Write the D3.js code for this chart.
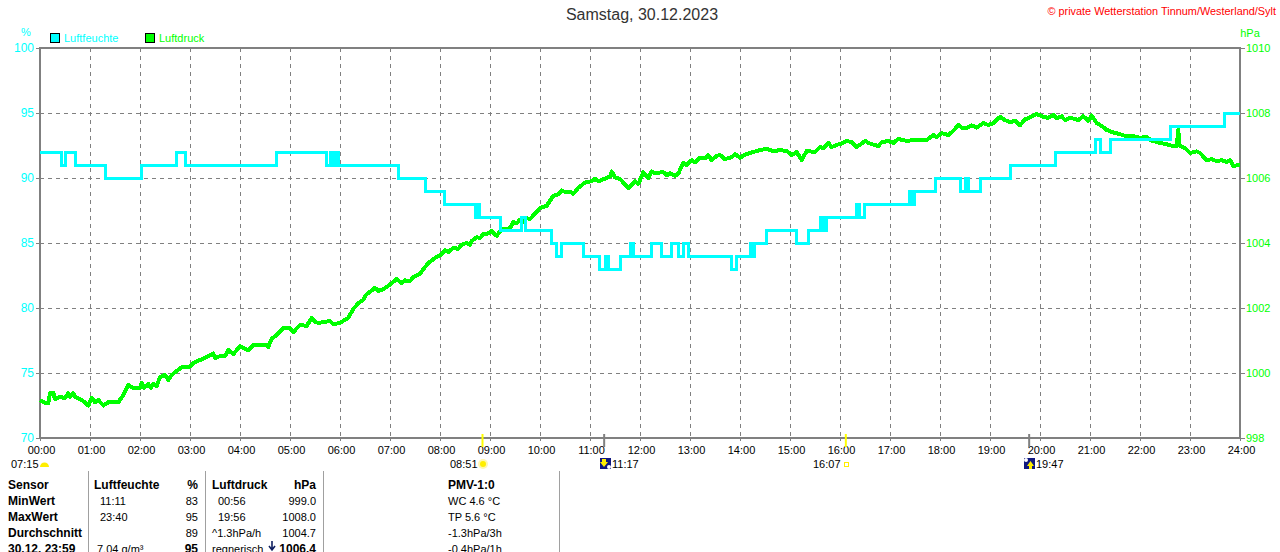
<!DOCTYPE html>
<html>
<head>
<meta charset="utf-8">
<title>Samstag, 30.12.2023</title>
<script src="https://cdn.jsdelivr.net/npm/d3@7"></script>
<style>
	html, body { margin: 0; padding: 0; background: #fff; overflow: hidden; }
	svg { display: block; }
	text { font-family: "Liberation Sans", Arial, sans-serif; font-size: 11px; }
	.grid line { stroke: #808080; stroke-dasharray: 4 4; }
	.grid path, .axis path { display: none; }
	.axis line { stroke: #808080; }
	.axis text { font-size: 11px; }
</style>
</head>
<body>
<svg id="chart" width="1280" height="552"></svg>
<script>
// Hours along the bottom and the two value axes
const hourTicks = d3.range(0, 25).map(h => h * 60);
const humidityTicks = [70, 75, 80, 85, 90, 95, 100];
const pressureTicks = [998, 1000, 1002, 1004, 1006, 1008, 1010];

// Luftfeuchte: [minute, %], value holds until the next entry
const humidity = [[0,92],[26,91],[31,92],[43,91],[78,90],[122,91],[164,92],[175,91],[284,92],[344,91],[348,92],[352,91],[354,92],[358,91],
	[430,90],[462,89],[485,88],[522,87],[524,88],[527,87],[552,86],[578,87],[583,86],[614,85],[620,84],[626,85],[652,84],[671,83],[678,84],[682,83],
	[696,84],[708,85],[712,84],[734,85],[746,84],[758,85],[766,84],[772,85],[778,84],[830,83],[836,84],[853,85],[854,84],[857,85],[872,86],
	[908,85],[922,86],[937,87],[940,86],[944,87],[980,88],[983,87],[989,88],[1043,89],[1046,88],[1049,89],[1074,90],[1104,89],[1110,90],[1114,89],
	[1128,90],[1164,91],[1219,92],[1266,93],[1272,92],[1285,93],[1356,94],[1421,95],[1440,95]];

// Luftdruck: [minute, hPa]
const pressure = [[0,999.17],[6,999.08],[10,999.08],[12,999.38],[16,999.38],[18,999.2],[24,999.26],[30,999.23],[34,999.38],[36,999.26],[40,999.38],[42,999.26],[48,999.2],[54,999.1],[58,999.0],
	[62,999.23],[66,999.1],[70,999.17],[76,999.0],[82,999.1],[88,999.1],[94,999.1],[100,999.32],[106,999.63],[112,999.54],[120,999.54],[122,999.69],[125,999.54],[130,999.66],[133,999.54],
	[136,999.66],[140,999.6],[144,999.88],[150,999.94],[154,999.78],[158,999.94],[164,1000.06],[170,1000.18],[180,1000.2],[186,1000.34],[192,1000.4],[200,1000.49],
	[208,1000.6],[210,1000.46],[216,1000.52],[222,1000.52],[226,1000.71],[232,1000.58],[240,1000.83],[250,1000.7],[256,1000.86],[272,1000.86],[274,1000.8],[278,1001.05],[284,1001.17],
	[292,1001.38],[300,1001.38],[304,1001.26],[312,1001.48],[320,1001.45],[326,1001.69],[330,1001.57],[334,1001.54],[348,1001.6],[352,1001.5],[360,1001.54],[370,1001.7],
	[376,1001.97],[382,1002.15],[388,1002.25],[391,1002.4],[394,1002.46],[402,1002.62],[406,1002.52],[412,1002.58],[420,1002.72],[428,1002.89],[434,1002.77],[438,1002.85],[444,1002.83],[448,1002.95],[456,1003.05],[460,1003.2],[466,1003.38],[474,1003.54],
	[480,1003.62],[486,1003.78],[490,1003.72],[496,1003.85],[502,1003.82],[506,1003.95],[512,1004.0],[516,1003.95],[518,1004.06],[524,1004.18],[528,1004.15],[532,1004.27],[536,1004.28],[542,1004.37],[548,1004.22],[554,1004.43],[558,1004.42],[564,1004.46],
	[568,1004.65],[572,1004.6],[576,1004.72],[580,1004.65],[584,1004.76],[588,1004.74],[594,1004.9],[600,1005.08],[608,1005.14],[612,1005.3],[616,1005.45],[622,1005.5],[626,1005.62],[630,1005.57],[636,1005.58],[640,1005.51],[646,1005.7],[652,1005.82],[656,1005.88],[662,1005.9],
	[666,1005.98],[670,1005.9],[674,1005.94],[680,1006.0],[684,1006.05],[686,1006.2],[690,1006.02],[696,1005.97],[706,1005.69],[714,1005.9],[718,1005.82],[724,1006.18],[730,1006.0],[734,1006.2],[738,1006.15],[748,1006.18],[752,1006.08],[756,1006.15],
	[762,1006.06],[766,1006.14],[772,1006.46],[776,1006.4],[782,1006.55],[786,1006.48],[792,1006.62],[798,1006.6],[802,1006.7],[806,1006.55],[812,1006.68],[816,1006.71],[822,1006.58],[830,1006.64],[834,1006.74],[840,1006.62],[846,1006.72],[856,1006.8],[864,1006.86],
	[872,1006.9],[880,1006.82],[888,1006.86],[896,1006.83],[902,1006.71],[908,1006.8],[914,1006.55],[920,1006.83],[930,1006.8],[936,1006.95],[940,1006.92],[946,1007.08],[950,1006.95],[956,1007.02],
	[962,1007.06],[968,1007.14],[974,1007.1],[980,1006.95],[990,1007.14],[996,1007.06],[1006,1006.98],[1010,1007.1],[1018,1007.14],[1024,1007.08],[1030,1007.2],[1040,1007.14],[1048,1007.17],[1064,1007.17],[1072,1007.32],[1076,1007.26],[1082,1007.38],
	[1090,1007.32],[1096,1007.45],[1102,1007.63],[1106,1007.55],[1112,1007.54],[1118,1007.62],[1124,1007.55],[1132,1007.69],[1138,1007.63],[1144,1007.69],[1152,1007.88],[1158,1007.78],[1164,1007.72],[1170,1007.76],[1176,1007.62],[1182,1007.8],[1186,1007.85],
	[1196,1007.97],[1204,1007.88],[1210,1007.85],[1216,1007.94],[1220,1007.84],[1226,1007.9],[1230,1007.78],[1236,1007.86],[1246,1007.78],[1252,1007.9],[1258,1007.76],[1262,1007.92],[1268,1007.69],[1274,1007.6],[1280,1007.48],[1288,1007.4],[1296,1007.35],[1304,1007.28],[1312,1007.29],
	[1320,1007.24],[1328,1007.26],[1334,1007.15],[1344,1007.08],[1352,1007.04],[1360,1006.98],[1364,1006.98],[1366,1007.48],[1367,1007.0],[1374,1006.92],[1380,1006.77],[1388,1006.82],[1392,1006.77],[1400,1006.55],[1406,1006.58],[1412,1006.52],
	[1418,1006.55],[1424,1006.49],[1428,1006.55],[1432,1006.37],[1438,1006.4],[1440,1006.4]];

// Sun and moon times under the axis
const sunMarkers = [531, 967];
const moonMarkers = [677, 1187];

// Statistics table below the chart
const sensorColumn = ["Sensor", "MinWert", "MaxWert", "Durchschnitt", "30.12. 23:59"];
const humidityNotes = ["Luftfeuchte", "11:11", "23:40", "", "7.04 g/m³"];
const humidityValues = ["%", "83", "95", "89", "95"];
const pressureNotes = ["Luftdruck", "00:56", "19:56", "^1.3hPa/h", "regnerisch"];
const pressureValues = ["hPa", "999.0", "1008.0", "1004.7", "1006.4"];
const pmvColumn = ["PMV-1:0", "WC 4.6 °C", "TP 5.6 °C", "-1.3hPa/3h", "-0.4hPa/1h"];
const tableRuleX = [88, 205, 323, 559];

const CYAN = "#00ffff", GREEN = "#00ff00", GREY = "#808080";
const margin = {top: 48, right: 40, bottom: 114, left: 40};
const width = 1280 - margin.left - margin.right;
const height = 552 - margin.top - margin.bottom;

const svg = d3.select("#chart");
const g = svg.append("g").attr("transform", `translate(${margin.left},${margin.top})`);

const x = d3.scaleLinear().domain([0, 1440]).range([0, width]);
const yHum = d3.scaleLinear().domain([70, 100]).range([height, 0]);
const yPres = d3.scaleLinear().domain([998, 1010]).range([height, 0]);
const hhmm = m => d3.format("02")(Math.floor(m / 60)) + ":" + d3.format("02")(m % 60);

// Gridlines
g.append("g").attr("class", "grid")
	.call(d3.axisBottom(x).tickValues(hourTicks.slice(1, -1)).tickSize(height).tickFormat(""));
g.append("g").attr("class", "grid")
	.call(d3.axisRight(yHum).tickValues(humidityTicks.slice(1, -1)).tickSize(width).tickFormat(""));

// Axes
const bottom = g.append("g").attr("class", "axis")
	.attr("transform", `translate(0,${height})`)
	.call(d3.axisBottom(x).tickValues(hourTicks).tickSize(3).tickPadding(5).tickFormat(hhmm));
bottom.selectAll("text").attr("fill", "#000").attr("dx", 1);
const left = g.append("g").attr("class", "axis")
	.call(d3.axisLeft(yHum).tickValues(humidityTicks).tickSize(4).tickPadding(2));
left.selectAll("text").attr("fill", CYAN).style("font-size", "12px");
const right = g.append("g").attr("class", "axis")
	.attr("transform", `translate(${width},0)`)
	.call(d3.axisRight(yPres).tickValues(pressureTicks).tickSize(5).tickPadding(1).tickFormat(d3.format("d")));
right.selectAll("text").attr("fill", GREEN);

// Frame
g.append("rect")
	.attr("width", width).attr("height", height)
	.attr("fill", "none").attr("stroke", GREY).attr("stroke-width", 2);

// Series, humidity goes on top
g.append("path").datum(pressure)
	.attr("fill", "none").attr("stroke", GREEN).attr("stroke-width", 4).attr("stroke-linejoin", "round")
	.style("shape-rendering", "crispEdges")
	.attr("d", d3.line().x(d => x(d[0])).y(d => yPres(d[1])));
g.append("path").datum(humidity)
	.attr("fill", "none").attr("stroke", CYAN).attr("stroke-width", 3)
	.style("shape-rendering", "crispEdges")
	.attr("d", d3.line().curve(d3.curveStepAfter).x(d => x(d[0])).y(d => yHum(d[1])));

// Marks under the axis for sun and moon
g.selectAll(".sunTick").data(sunMarkers).enter().append("line")
	.attr("class", "sunTick")
	.attr("x1", d => x(d)).attr("x2", d => x(d))
	.attr("y1", height - 4).attr("y2", height + 9)
	.attr("stroke", "#ffff00").attr("stroke-width", 2);
g.selectAll(".moonTick").data(moonMarkers).enter().append("line")
	.attr("class", "moonTick")
	.attr("x1", d => x(d)).attr("x2", d => x(d))
	.attr("y1", height - 4).attr("y2", height + 9)
	.attr("stroke", GREY).attr("stroke-width", 2);

// Title, credit, units, legend
svg.append("text").attr("x", 642).attr("y", 20).attr("text-anchor", "middle")
	.style("font-size", "16px").attr("fill", "#333").text("Samstag, 30.12.2023");
svg.append("text").attr("x", 1276).attr("y", 15).attr("text-anchor", "end")
	.style("font-size", "10.9px").attr("fill", "#ff0000").text("© private Wetterstation Tinnum/Westerland/Sylt");
svg.append("text").attr("x", 26).attr("y", 36).attr("text-anchor", "middle").attr("fill", CYAN).text("%");
svg.append("text").attr("x", 1250).attr("y", 37).attr("text-anchor", "middle").attr("fill", GREEN).text("hPa");

const legend = [{label: "Luftfeuchte", color: CYAN, x: 50}, {label: "Luftdruck", color: GREEN, x: 145}];
legend.forEach(l => {
	svg.append("rect").attr("x", l.x + .5).attr("y", 33.5).attr("width", 9).attr("height", 9)
		.attr("fill", l.color).attr("stroke", "#000");
	svg.append("text").attr("x", l.x + 14).attr("y", 42).attr("fill", l.color).text(l.label);
});

// Sun and moon row
const astro = svg.append("g");
const astroY = 468;
astro.append("text").attr("x", 11).attr("y", astroY).text("07:15");
astro.append("path").attr("d", "M40 467 a4.5 4.5 0 0 1 9 0 z").attr("fill", "#ffee00");
astro.append("text").attr("x", 450).attr("y", astroY).text("08:51");
astro.append("circle").attr("cx", 483).attr("cy", 464).attr("r", 5).attr("fill", "#fff7b0");
astro.append("circle").attr("cx", 483).attr("cy", 464).attr("r", 3).attr("fill", "#ffee00");
astro.append("text").attr("x", 612).attr("y", astroY).text("11:17");
astro.append("rect").attr("x", 600).attr("y", 458).attr("width", 11).attr("height", 11).attr("fill", "#101880");
astro.append("path").attr("d", "M602 459 h4 v3 h2 l-4 5 l-4 -5 h2 z").attr("fill", "#ffee00");
astro.append("circle").attr("cx", 609).attr("cy", 467).attr("r", 2).attr("fill", "#fff");
astro.append("text").attr("x", 813).attr("y", astroY).text("16:07");
astro.append("rect").attr("x", 844.5).attr("y", 462.5).attr("width", 4).attr("height", 4)
	.attr("fill", "none").attr("stroke", "#ffee00");
astro.append("text").attr("x", 1036).attr("y", astroY).text("19:47");
astro.append("rect").attr("x", 1024).attr("y", 458).attr("width", 11).attr("height", 11).attr("fill", "#101880");
astro.append("path").attr("d", "M1032 469 h-3 v-3 h-2 l3.500 -5 l3.500 5 h-2 z").attr("fill", "#ffee00");
astro.append("circle").attr("cx", 1026).attr("cy", 460).attr("r", 2).attr("fill", "#fff");

// Table
const rowY = d3.scaleLinear().domain([0, 4]).range([489, 553]);
const table = svg.append("g");
table.selectAll("line").data(tableRuleX).enter().append("line")
	.attr("x1", d => d).attr("x2", d => d).attr("y1", 471).attr("y2", 552)
	.attr("stroke", "#a0a0a0").style("shape-rendering", "crispEdges");

function column(values, xPos, anchor, isBold, xOf){
	table.append("g").selectAll("text").data(values).enter().append("text")
		.attr("x", (d, i) => xOf ? xOf(i) : xPos)
		.attr("y", (d, i) => rowY(i))
		.attr("text-anchor", anchor)
		.style("font-weight", (d, i) => isBold(i) ? "bold" : "normal")
		.style("font-size", (d, i) => isBold(i) ? "12px" : "11px")
		.text(d => d);
}
column(sensorColumn, 8, "start", () => true);
column(humidityNotes, 0, "start", i => i == 0, i => i == 0 ? 94 : i == 4 ? 97 : 100);
column(humidityValues, 198, "end", i => i == 0 || i == 4);
column(pressureNotes, 0, "start", i => i == 0, i => i == 1 || i == 2 ? 218 : 212);
column(pressureValues, 316, "end", i => i == 0 || i == 4);
column(pmvColumn, 448, "start", i => i == 0);

// Falling pressure arrow next to the current value
table.append("path").attr("d", "M272 541 v8 M269 546 l3 4 l3 -4").attr("fill", "none").attr("stroke", "#102060").attr("stroke-width", 1.6);

g.selectAll(".axis line, .grid line, rect").style("shape-rendering", "crispEdges");
</script>
</body>
</html>
